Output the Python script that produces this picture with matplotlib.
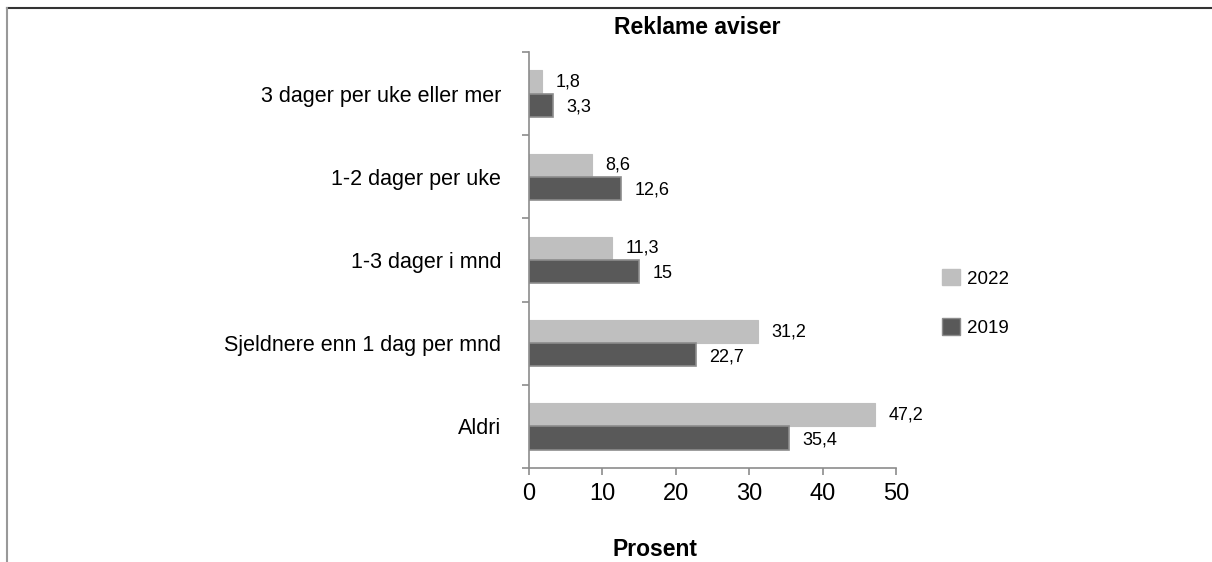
import matplotlib.pyplot as plt
import numpy as np
from matplotlib.patches import Patch
from matplotlib.lines import Line2D

plt.rcParams['font.family'] = ['Liberation Sans', 'DejaVu Sans']

kategorier = ["3 dager per uke eller mer", "1-2 dager per uke", "1-3 dager i mnd",
              "Sjeldnere enn 1 dag per mnd", "Aldri"]
verdier_2022 = [1.8, 8.6, 11.3, 31.2, 47.2]
verdier_2019 = [3.3, 12.6, 15.0, 22.7, 35.4]
x_ticks = [0, 10, 20, 30, 40, 50]

lys = "#bfbfbf"
mork = "#595959"
kant = "#8c8c8c"


def fmt(v):
    s = f"{v:.1f}".replace(".", ",")
    return s[:-2] if s.endswith(",0") else s


fig = plt.figure(figsize=(12.12, 5.62), dpi=100)
ax = fig.add_axes([529/1212, 1 - 468/562, (896 - 529)/1212, (468 - 52)/562])

y = np.arange(len(kategorier))
h = 0.28
b1 = ax.barh(y - h/2, verdier_2022, height=h, color=lys, edgecolor=lys, linewidth=0.8)
b2 = ax.barh(y + h/2, verdier_2019, height=h, color=mork, edgecolor=kant, linewidth=1.2)

for bar, v in zip(b1, verdier_2022):
    ax.text(bar.get_width() + 1.8, bar.get_y() + bar.get_height()/2, fmt(v),
            va="center", ha="left", fontsize=13)
for bar, v in zip(b2, verdier_2019):
    ax.text(bar.get_width() + 1.8, bar.get_y() + bar.get_height()/2 + 0.02, fmt(v),
            va="center", ha="left", fontsize=13)

ax.set_xlim(0, 50)
ax.set_ylim(len(kategorier) - 0.5, -0.5)
ax.set_xticks(x_ticks)
ax.set_xticklabels([str(t) for t in x_ticks], fontsize=17)
ax.set_yticks(y)
ax.set_yticklabels(kategorier, fontsize=15.5)
ax.set_yticks(np.arange(-0.5, len(kategorier)), minor=True)
ax.tick_params(axis="y", which="major", length=0, pad=20)
ax.tick_params(axis="y", which="minor", length=5, color=kant, width=1.2)
ax.tick_params(axis="x", length=5, color=kant, width=1.2, pad=6)

for s in ["top", "right"]:
    ax.spines[s].set_visible(False)
for s in ["left", "bottom"]:
    ax.spines[s].set_color(kant)
    ax.spines[s].set_linewidth(1.2)

fig.text(697/1212, 1 - 27/562, "Reklame aviser", ha="center", va="center",
         fontsize=16.5, fontweight="bold")
fig.text(655/1212, 1 - 550/562, "Prosent", ha="center", va="center",
         fontsize=16.5, fontweight="bold")

handles = [Patch(facecolor=lys, edgecolor=lys, label="2022"),
           Patch(facecolor=mork, edgecolor=kant, label="2019")]
fig.legend(handles=handles, loc="center left", bbox_to_anchor=(925/1212, 1 - 303/562),
           frameon=False, fontsize=13.5, handlelength=0.95, handleheight=0.95,
           labelspacing=1.65, handletextpad=0.4)

# ramme rundt figuren
fig.add_artist(Line2D([7/1212, 1], [1 - 8/562, 1 - 8/562], transform=fig.transFigure,
                      color="#333333", linewidth=1.5))
fig.add_artist(Line2D([7/1212, 7/1212], [0, 1 - 8/562], transform=fig.transFigure,
                      color="#999999", linewidth=1.5))

fig.savefig("out.png", dpi=100)
